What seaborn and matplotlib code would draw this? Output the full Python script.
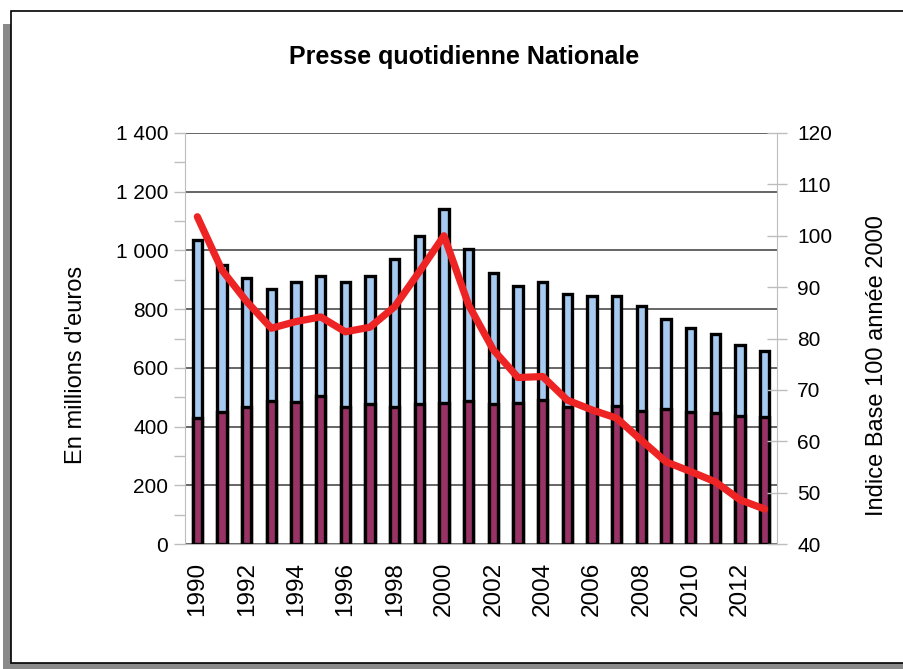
import numpy as np
import pandas as pd
import matplotlib
matplotlib.use("Agg")
import matplotlib.pyplot as plt
from matplotlib.patches import Rectangle
from matplotlib.ticker import MultipleLocator, FuncFormatter
import seaborn as sns

years = list(range(1990, 2014))
# total revenue (top of stacked bar), millions of euros
total = [1035, 952, 907, 867, 891, 914, 894, 914, 971, 1048, 1140, 1006,
         923, 880, 894, 853, 846, 844, 810, 765, 736, 717, 679, 657]
# lower segment (dark purple)
lower = [428, 451, 468, 487, 484, 505, 465, 476, 468, 476, 479, 487,
         476, 479, 490, 468, 458, 470, 454, 459, 451, 445, 437, 431]
# index base 100 in 2000
index_2000 = [103.7, 93.3, 87.2, 82.0, 83.3, 84.2, 81.3, 82.2, 86.2, 93.0, 100.0, 86.5,
              77.8, 72.4, 72.6, 68.0, 66.1, 64.5, 60.2, 56.0, 54.1, 52.1, 48.6, 46.8]

blue = "#A6CAF0"
purple = "#993366"
red = "#EE2424"
gray = "#BDBDBD"

sns.set_style("white")
plt.rcParams["font.family"] = ["Liberation Sans", "DejaVu Sans"]
plt.rcParams["text.color"] = "black"
plt.rcParams["xtick.color"] = "black"
plt.rcParams["ytick.color"] = "black"

df = pd.DataFrame({"year": [str(y) for y in years], "total": total,
                   "lower": lower, "index": index_2000})

fig = plt.figure(figsize=(9.04, 6.69), dpi=100)

# chart frame with shadow
fig.patches.append(Rectangle((3 / 904, -0.01), 1.0, (669 - 24) / 669 + 0.01,
                             transform=fig.transFigure, facecolor="#8a8a8a",
                             edgecolor="none", zorder=-10))
fig.patches.append(Rectangle((11 / 904, 6 / 669), 1.0, (663 - 11) / 669,
                             transform=fig.transFigure, facecolor="white",
                             edgecolor="black", linewidth=1.2, zorder=-9))

ax = fig.add_axes([185 / 904, 125 / 669, 592 / 904, 411 / 669])
ax.patch.set_alpha(0)

sns.barplot(data=df, x="year", y="total", color=blue, width=0.37,
            edgecolor="black", linewidth=2.4, saturation=1, ax=ax, zorder=3)
sns.barplot(data=df, x="year", y="lower", color=purple, width=0.37,
            edgecolor="black", linewidth=2.4, saturation=1, ax=ax, zorder=3)

ax.set_ylim(0, 1400)
ax.set_xlim(-0.5, len(years) - 0.5)
ax.yaxis.set_major_locator(MultipleLocator(200))
ax.yaxis.set_minor_locator(MultipleLocator(100))
ax.yaxis.set_major_formatter(FuncFormatter(lambda v, p: f"{int(v):,}".replace(",", " ")))
ax.grid(axis="y", color="#3c3c3c", linewidth=1.1, zorder=1)
ax.set_axisbelow(True)
ax.tick_params(axis="y", which="both", direction="out", length=8, width=1,
               color=gray, pad=4, labelsize=15, left=True, labelcolor="black")
ax.set_xticks(range(0, len(years), 2))
ax.set_xticklabels([str(y) for y in years[::2]], rotation=90, fontsize=17.5)
ax.tick_params(axis="x", length=0, pad=13, labelcolor="black")
ax.set_xlabel("")
ax.set_ylabel("")
for s in ["top", "right"]:
    ax.spines[s].set_visible(False)
ax.spines["left"].set_color(gray)
ax.spines["bottom"].set_color(gray)

ax2 = ax.twinx()
sns.lineplot(x=np.arange(len(years)), y=df["index"], color=red, linewidth=5.2,
             ax=ax2, zorder=5)
ax2.set_ylim(40, 120)
ax2.yaxis.set_major_locator(MultipleLocator(10))
ax2.tick_params(axis="y", direction="inout", length=15, width=1, color=gray,
                pad=7, labelsize=15, right=True, labelcolor="black")
ax2.set_ylabel("")
for s in ["top", "left", "bottom"]:
    ax2.spines[s].set_visible(False)
ax2.spines["right"].set_color(gray)
ax2.set_xlim(-0.5, len(years) - 0.5)

fig.text(464 / 904, (669 - 57) / 669, "Presse quotidienne Nationale",
         ha="center", va="center", fontsize=18, fontweight="bold")
fig.text(76 / 904, (669 - 365) / 669, "En millions d'euros", rotation=90,
         ha="center", va="center", fontsize=17)
fig.text(877 / 904, (669 - 366) / 669, "Indice Base 100 année 2000", rotation=90,
         ha="center", va="center", fontsize=17)

fig.savefig("out.png", dpi=100)
